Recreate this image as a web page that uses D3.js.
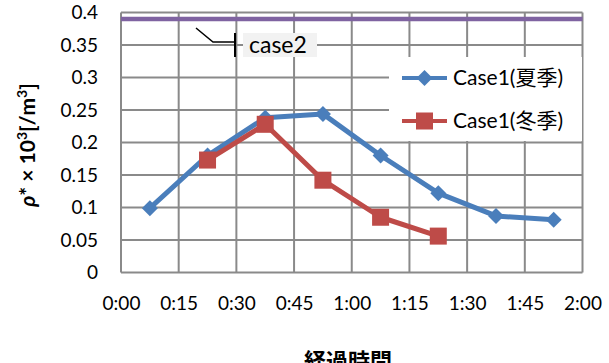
<!DOCTYPE html>
<html>
<head>
<meta charset="utf-8">
<script src="https://cdn.jsdelivr.net/npm/d3@7"></script>
<style>
  html, body { margin: 0; padding: 0; background: #fff; }
  svg { display: block; }
</style>
</head>
<body>
<svg id="chart" width="609" height="363"></svg>
<script>
// elapsed time of each sample, in minutes
const summerTimes = [7.5, 22.5, 37.5, 52.5, 67.5, 82.5, 97.5, 112.5];
const summerValues = [0.099, 0.180, 0.238, 0.244, 0.180, 0.122, 0.087, 0.081];
const winterTimes = [22.5, 37.5, 52.5, 67.5, 82.5];
const winterValues = [0.173, 0.228, 0.142, 0.085, 0.056];
const case2Times = [0, 120];
const case2Values = [0.39, 0.39];
const xTickMinutes = [0, 15, 30, 45, 60, 75, 90, 105, 120];
const xTickLabels = ["0:00", "0:15", "0:30", "0:45", "1:00", "1:15", "1:30", "1:45", "2:00"];
const yTicks = [0, 0.05, 0.1, 0.15, 0.2, 0.25, 0.3, 0.35, 0.4];
const seriesNames = ["Case1(夏季)", "Case1(冬季)"];

const colors = { summer: "#4a7ebb", winter: "#be4b48", case2: "#7f63a1", grid: "#8a8a8a" };
const font = "Lato, 'Noto Sans CJK JP', sans-serif";

const svg = d3.select("#chart");
const plot = { left: 121, right: 582.5, top: 12.5, bottom: 272.5 };

const x = d3.scaleLinear().domain([0, 120]).range([plot.left, plot.right]);
const y = d3.scaleLinear().domain([0, 0.4]).range([plot.bottom, plot.top]);

// gridlines
const grid = svg.append("g").attr("stroke", colors.grid).attr("stroke-width", 2);
grid.selectAll("line.h").data(yTicks).join("line")
  .attr("x1", plot.left).attr("x2", plot.right)
  .attr("y1", d => y(d)).attr("y2", d => y(d));
grid.selectAll("line.v").data(xTickMinutes).join("line")
  .attr("x1", d => x(d)).attr("x2", d => x(d))
  .attr("y1", plot.top).attr("y2", plot.bottom);

// axes (labels only; lines come from the grid)
const yAxis = d3.axisLeft(y).tickValues(yTicks).tickSize(0).tickPadding(0)
  .tickFormat(d => d3.format("~g")(d));
svg.append("g").attr("transform", `translate(98,0)`).call(yAxis)
  .call(g => g.select(".domain").remove())
  .selectAll("text").attr("font-family", font).attr("font-size", 19).attr("fill", "#000");

const xAxis = d3.axisBottom(x).tickValues(xTickMinutes).tickSize(0).tickPadding(0)
  .tickFormat((d, i) => xTickLabels[i]);
svg.append("g").attr("transform", `translate(0,296)`).call(xAxis)
  .call(g => g.select(".domain").remove())
  .selectAll("text").attr("font-family", font).attr("font-size", 19).attr("fill", "#000");

// axis titles
svg.append("text")
  .attr("transform", "translate(35,145) rotate(-90)")
  .attr("text-anchor", "middle")
  .attr("font-family", font).attr("font-size", 21).attr("font-weight", "bold")
  .html('<tspan font-style="italic">ρ</tspan>* × 10<tspan dy="-8" font-size="14">3</tspan><tspan dy="8">[/m</tspan><tspan dy="-8" font-size="14">3</tspan><tspan dy="8">]</tspan>');

svg.append("text")
  .attr("x", 348).attr("y", 369)
  .attr("text-anchor", "middle")
  .attr("font-family", "'Noto Sans CJK JP', sans-serif").attr("font-size", 22).attr("font-weight", "bold")
  .text("経過時間");

// case2 reference line
const line = d3.line().x(d => x(d[0])).y(d => y(d[1]));
svg.append("path")
  .datum(d3.zip(case2Times, case2Values))
  .attr("d", line).attr("fill", "none")
  .attr("stroke", colors.case2).attr("stroke-width", 4.5);

// case2 callout
svg.append("rect").attr("x", 243).attr("y", 33).attr("width", 74).attr("height", 24).attr("fill", "#f2f2f2");
svg.append("text").attr("x", 249).attr("y", 53)
  .attr("font-family", font).attr("font-size", 23).attr("fill", "#000").text("case2");
svg.append("polyline")
  .attr("points", "196,28 213,42 235,42")
  .attr("fill", "none").attr("stroke", "#000").attr("stroke-width", 1.5);
svg.append("line").attr("x1", 235).attr("x2", 235).attr("y1", 33).attr("y2", 57)
  .attr("stroke", "#000").attr("stroke-width", 2);

// data series
function diamondPath(cx, cy, r) {
  return `M${cx},${cy - r}L${cx + r},${cy}L${cx},${cy + r}L${cx - r},${cy}Z`;
}

const summer = d3.zip(summerTimes, summerValues);
const winter = d3.zip(winterTimes, winterValues);

svg.append("path").datum(summer).attr("d", line).attr("fill", "none")
  .attr("stroke", colors.summer).attr("stroke-width", 5).attr("stroke-linejoin", "round");
svg.append("g").selectAll("path").data(summer).join("path")
  .attr("d", d => diamondPath(x(d[0]), y(d[1]), 8))
  .attr("fill", colors.summer);

svg.append("path").datum(winter).attr("d", line).attr("fill", "none")
  .attr("stroke", colors.winter).attr("stroke-width", 5).attr("stroke-linejoin", "round");
svg.append("g").selectAll("rect").data(winter).join("rect")
  .attr("x", d => x(d[0]) - 8.5).attr("y", d => y(d[1]) - 8.5)
  .attr("width", 17).attr("height", 17)
  .attr("fill", colors.winter);

// legend
const legend = svg.append("g");
legend.append("rect").attr("x", 389).attr("y", 57).attr("width", 193).attr("height", 84).attr("fill", "#fff");
const items = [
  { name: seriesNames[0], color: colors.summer, shape: "diamond", cy: 78 },
  { name: seriesNames[1], color: colors.winter, shape: "square", cy: 121 }
];
items.forEach(it => {
  legend.append("line").attr("x1", 402).attr("x2", 447).attr("y1", it.cy).attr("y2", it.cy)
    .attr("stroke", it.color).attr("stroke-width", 4);
  if (it.shape === "diamond") {
    legend.append("path").attr("d", diamondPath(424.5, it.cy, 8)).attr("fill", it.color);
  } else {
    legend.append("rect").attr("x", 416).attr("y", it.cy - 8.5).attr("width", 17).attr("height", 17).attr("fill", it.color);
  }
  legend.append("text").attr("x", 453).attr("y", it.cy).attr("dy", "0.35em")
    .attr("font-family", font).attr("font-size", 21).attr("fill", "#000").text(it.name);
});
</script>
</body>
</html>
